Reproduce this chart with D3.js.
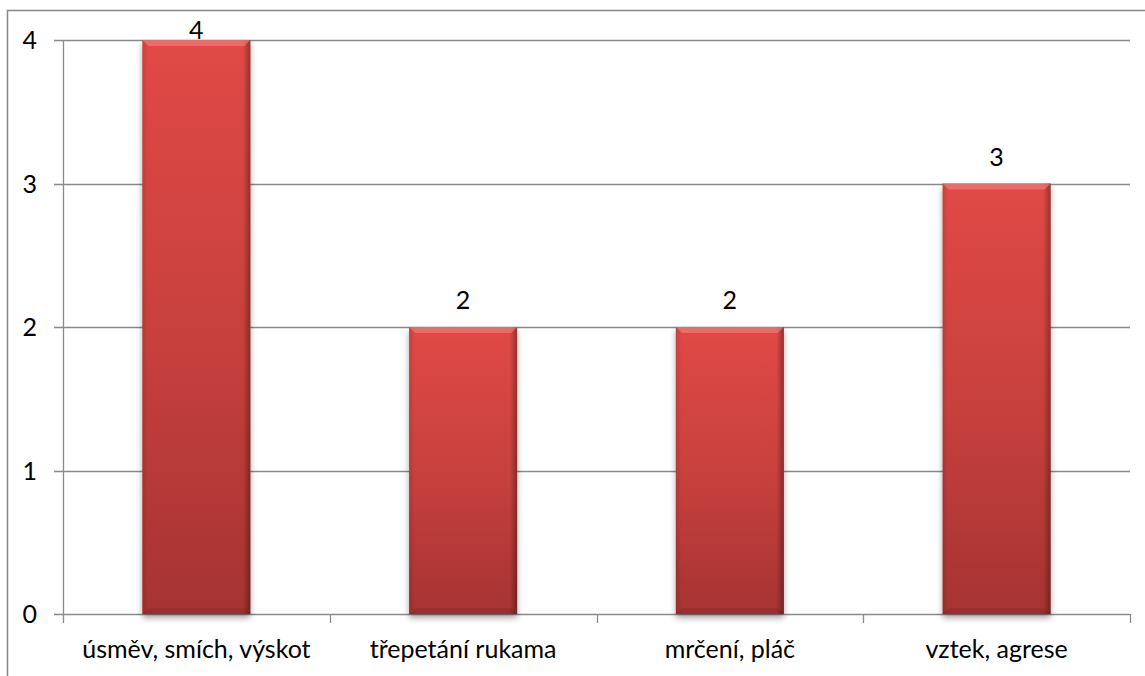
<!DOCTYPE html>
<html>
<head>
<meta charset="utf-8">
<script src="https://cdn.jsdelivr.net/npm/d3@7"></script>
<style>
  html, body { margin: 0; padding: 0; background: #fff; }
  svg { display: block; }
  text { font-family: Lato, "Open Sans", sans-serif; fill: #000; }
</style>
</head>
<body>
<svg id="chart" width="1145" height="676"></svg>
<script>
// Reakce dítěte – počet výskytů
const categories = ["úsměv, smích, výskot", "třepetání rukama", "mrčení, pláč", "vztek, agrese"];
const values = [4, 2, 2, 3];
const yTicks = [0, 1, 2, 3, 4];

const W = 1145, H = 676;
const plot = { left: 63, right: 1130, top: 40, bottom: 614 };

const svg = d3.select("#chart");
const defs = svg.append("defs");

// body gradient: light red at the top fading to darker red at the base
const g1 = defs.append("linearGradient").attr("id", "barFill")
  .attr("x1", 0).attr("y1", 0).attr("x2", 0).attr("y2", 1);
g1.append("stop").attr("offset", "0%").attr("stop-color", "#e04946");
g1.append("stop").attr("offset", "50%").attr("stop-color", "#c8413e");
g1.append("stop").attr("offset", "100%").attr("stop-color", "#a63333");

// side shading of the bevel
const g2 = defs.append("linearGradient").attr("id", "sideShade")
  .attr("x1", 0).attr("y1", 0).attr("x2", 1).attr("y2", 0);
g2.append("stop").attr("offset", "0%").attr("stop-color", "#000").attr("stop-opacity", 0.12);
g2.append("stop").attr("offset", "5%").attr("stop-color", "#000").attr("stop-opacity", 0.0);
g2.append("stop").attr("offset", "93%").attr("stop-color", "#000").attr("stop-opacity", 0.0);
g2.append("stop").attr("offset", "100%").attr("stop-color", "#000").attr("stop-opacity", 0.32);

const blur = defs.append("filter").attr("id", "shadow")
  .attr("x", "-20%").attr("y", "-20%").attr("width", "140%").attr("height", "140%");
blur.append("feGaussianBlur").attr("stdDeviation", 3);

// outer frame
svg.append("rect")
  .attr("x", 7.5).attr("y", 10.5).attr("width", W).attr("height", H)
  .attr("fill", "none").attr("stroke", "#868686").attr("stroke-width", 1.5);

const x = d3.scaleBand().domain(categories).range([plot.left, plot.right]).padding(0);
const y = d3.scaleLinear().domain([0, 4]).range([plot.bottom, plot.top]);
const barW = x.bandwidth() * 0.405;

// horizontal gridlines with left tick stubs
svg.append("g").selectAll("line").data(yTicks).join("line")
  .attr("x1", plot.left - 9).attr("x2", plot.right)
  .attr("y1", d => Math.round(y(d)) + 0.5).attr("y2", d => Math.round(y(d)) + 0.5)
  .attr("stroke", "#8a8a8a").attr("stroke-width", 1.3);

// y axis line
svg.append("line")
  .attr("x1", plot.left + 0.5).attr("x2", plot.left + 0.5)
  .attr("y1", plot.top).attr("y2", plot.bottom + 0.5)
  .attr("stroke", "#8a8a8a").attr("stroke-width", 1.3);

// category separators below the axis
const sepX = categories.map(c => x(c)).concat([plot.right]);
svg.append("g").selectAll("line").data(sepX).join("line")
  .attr("x1", d => Math.round(d) + 0.5).attr("x2", d => Math.round(d) + 0.5)
  .attr("y1", plot.bottom).attr("y2", plot.bottom + 9)
  .attr("stroke", "#8a8a8a").attr("stroke-width", 1.3);

// y tick labels
svg.append("g").selectAll("text").data(yTicks).join("text")
  .attr("x", 37).attr("y", d => y(d))
  .attr("dy", "0.36em").attr("text-anchor", "end")
  .style("font-size", "25px").text(d => d);

// bars
const bars = svg.append("g").selectAll("g").data(values).join("g")
  .attr("transform", (d, i) => `translate(${x(categories[i]) + x.bandwidth() / 2 - barW / 2},0)`);

bars.append("rect")
  .attr("x", 0).attr("y", d => y(d) + 4)
  .attr("width", barW).attr("height", d => y(0) - y(d))
  .attr("fill", "#000").attr("opacity", 0.35)
  .attr("filter", "url(#shadow)");

bars.append("rect")
  .attr("x", 0).attr("y", d => y(d))
  .attr("width", barW).attr("height", d => y(0) - y(d))
  .attr("fill", "url(#barFill)");

bars.append("rect")
  .attr("x", 0).attr("y", d => y(d))
  .attr("width", barW).attr("height", d => y(0) - y(d))
  .attr("fill", "url(#sideShade)");

// top bevel highlight
const bev = 6;
bars.append("path")
  .attr("d", d => `M0,${y(d)} L${barW},${y(d)} L${barW - bev},${y(d) + bev} L${bev},${y(d) + bev} Z`)
  .attr("fill", "#ff8a86").attr("opacity", 0.5);

// bottom bevel shade
bars.append("path")
  .attr("d", d => `M0,${y(0)} L${barW},${y(0)} L${barW - bev},${y(0) - bev} L${bev},${y(0) - bev} Z`)
  .attr("fill", "#000").attr("opacity", 0.08);

// value labels above bars (kept inside the plot area)
bars.append("text")
  .attr("x", barW / 2)
  .attr("y", d => Math.max(y(d) - 18, plot.top - 1))
  .attr("text-anchor", "middle")
  .style("font-size", "25px").text(d => d);

// category labels
svg.append("g").selectAll("text").data(categories).join("text")
  .attr("x", d => x(d) + x.bandwidth() / 2).attr("y", 658)
  .attr("text-anchor", "middle")
  .style("font-size", "25px").text(d => d);
</script>
</body>
</html>
